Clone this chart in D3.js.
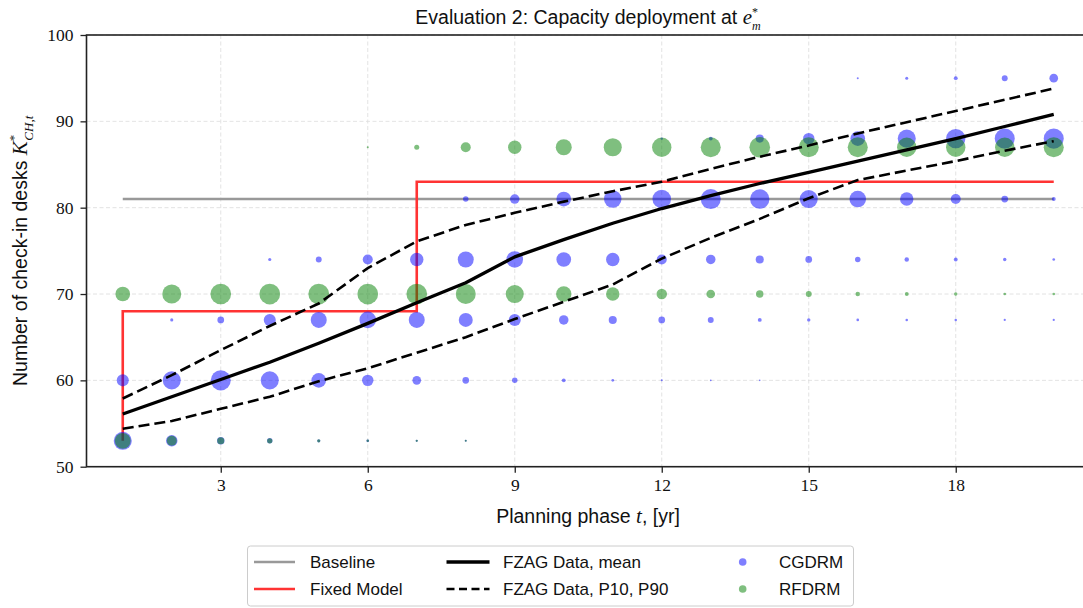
<!DOCTYPE html>
<html>
<head>
<meta charset="utf-8">
<script src="https://cdn.jsdelivr.net/npm/d3@7"></script>
<style>
  body { margin: 0; background: #fff; }
  svg { display: block; }
</style>
</head>
<body>
<svg id="chart" width="1083" height="608"></svg>
<script>
// Planning phases (years)
const phases = [1, 2, 3, 4, 5, 6, 7, 8, 9, 10, 11, 12, 13, 14, 15, 16, 17, 18, 19, 20];

// Capacity levels reached by each model
const cgdrmLevels = [53, 60, 67, 74, 81, 88, 95];
const rfdrmLevels = [53, 70, 87];

// Share of scenarios at each capacity level, per phase (rows follow the level lists)
const cgdrmShare = [
  [0.65, 0.26, 0.11, 0.06, 0.02, 0.015, 0.01, 0.008, 0, 0, 0, 0, 0, 0, 0, 0, 0, 0, 0, 0],
  [0.29, 0.65, 0.80, 0.65, 0.43, 0.26, 0.15, 0.09, 0.06, 0.03, 0.014, 0.008, 0.006, 0.005, 0, 0, 0, 0, 0, 0],
  [0, 0.02, 0.09, 0.29, 0.51, 0.55, 0.51, 0.39, 0.29, 0.18, 0.13, 0.09, 0.07, 0.03, 0.023, 0.014, 0.013, 0.012, 0.01, 0.01],
  [0, 0, 0, 0.02, 0.07, 0.20, 0.36, 0.51, 0.55, 0.43, 0.36, 0.20, 0.18, 0.13, 0.09, 0.06, 0.04, 0.03, 0.023, 0.014],
  [0, 0, 0, 0, 0, 0, 0, 0.06, 0.18, 0.43, 0.61, 0.69, 0.80, 0.75, 0.65, 0.55, 0.36, 0.20, 0.09, 0.03],
  [0, 0, 0, 0, 0, 0, 0, 0, 0, 0, 0, 0.012, 0.03, 0.13, 0.26, 0.43, 0.65, 0.75, 0.80, 0.80],
  [0, 0, 0, 0, 0, 0, 0, 0, 0, 0, 0, 0, 0, 0, 0, 0.008, 0.018, 0.03, 0.07, 0.15]
];
const rfdrmShare = [
  [0.50, 0.20, 0.10, 0.055, 0.02, 0.012, 0.01, 0.008, 0, 0, 0, 0, 0, 0, 0, 0, 0, 0, 0, 0],
  [0.43, 0.72, 0.85, 0.86, 0.86, 0.86, 0.85, 0.80, 0.65, 0.47, 0.36, 0.22, 0.15, 0.11, 0.07, 0.04, 0.03, 0.023, 0.014, 0.014],
  [0, 0, 0, 0, 0, 0.008, 0.05, 0.20, 0.36, 0.51, 0.65, 0.75, 0.80, 0.85, 0.80, 0.80, 0.75, 0.75, 0.75, 0.80]
];

// Reference curves
const baselineDesks = [81, 81, 81, 81, 81, 81, 81, 81, 81, 81, 81, 81, 81, 81, 81, 81, 81, 81, 81, 81];
const fixedModelDesks = [53, 68, 68, 68, 68, 68, 68, 83, 83, 83, 83, 83, 83, 83, 83, 83, 83, 83, 83, 83];
const fzagMean = [56.1, 58.1, 60.1, 62.1, 64.3, 66.6, 69.0, 71.3, 74.3, 76.3, 78.2, 79.9, 81.4, 82.8, 84.1, 85.4, 86.7, 88.0, 89.4, 90.8];
const fzagP10 = [54.4, 55.3, 56.7, 58.1, 59.9, 61.4, 63.2, 65.0, 67.1, 69.1, 71.1, 74.1, 76.5, 78.7, 81.1, 83.2, 84.3, 85.4, 86.6, 87.7];
const fzagP90 = [57.9, 60.6, 63.5, 66.3, 68.9, 73.0, 76.1, 78.0, 79.4, 80.7, 81.9, 83.0, 84.5, 85.9, 87.2, 88.6, 89.9, 91.2, 92.5, 93.8];

// Axis ticks
const xTicks = [3, 6, 9, 12, 15, 18];
const yTicks = [50, 60, 70, 80, 90, 100];

const svg = d3.select("#chart");
const serif = "'Liberation Serif', 'DejaVu Serif', serif";
const sans = "'Liberation Sans', 'DejaVu Sans', sans-serif";

const plot = { left: 86.5, right: 1090, top: 35, bottom: 466.7 };

const x = d3.scaleLinear().domain([0.26, 20.74]).range([plot.left, plot.right]);
const y = d3.scaleLinear().domain([50, 100]).range([plot.bottom, plot.top]);
const r = d3.scaleSqrt().domain([0, 1]).range([0, 11.2]);

svg.append("rect").attr("width", 1083).attr("height", 608).attr("fill", "#fff");

// Grid
const grid = svg.append("g").attr("stroke", "#dcdcdc").attr("stroke-width", 0.8).attr("stroke-dasharray", "4,2.5");
grid.selectAll("line.gx").data(xTicks).join("line")
  .attr("x1", d => x(d)).attr("x2", d => x(d))
  .attr("y1", plot.top).attr("y2", plot.bottom);
grid.selectAll("line.gy").data(yTicks).join("line")
  .attr("x1", plot.left).attr("x2", plot.right)
  .attr("y1", d => y(d)).attr("y2", d => y(d));

const plotArea = svg.append("g");

// Baseline and fixed model
const line = d3.line().x((d, i) => x(phases[i])).y(d => y(d));
const stepLine = d3.line().x((d, i) => x(phases[i])).y(d => y(d)).curve(d3.curveStepBefore);
plotArea.append("path").datum(baselineDesks)
  .attr("d", line).attr("fill", "none")
  .attr("stroke", "#999999").attr("stroke-width", 2.4);
plotArea.append("path").datum(fixedModelDesks)
  .attr("d", stepLine).attr("fill", "none")
  .attr("stroke", "#ff3333").attr("stroke-width", 2.6);

// Scatter of capacity distributions
function flatten(levels, share) {
  const out = [];
  levels.forEach((lv, li) => {
    share[li].forEach((s, pi) => { if (s > 0) out.push({ t: phases[pi], k: lv, s }); });
  });
  return out;
}
const cgdrmPts = flatten(cgdrmLevels, cgdrmShare);
const rfdrmPts = flatten(rfdrmLevels, rfdrmShare);

plotArea.append("g").selectAll("circle").data(cgdrmPts).join("circle")
  .attr("cx", d => x(d.t)).attr("cy", d => y(d.k)).attr("r", d => r(d.s))
  .attr("fill", "blue").attr("fill-opacity", 0.5);
plotArea.append("g").selectAll("circle").data(rfdrmPts).join("circle")
  .attr("cx", d => x(d.t)).attr("cy", d => y(d.k)).attr("r", d => r(d.s))
  .attr("fill", "green").attr("fill-opacity", 0.5);

// FZAG data: mean and percentile band edges
plotArea.append("path").datum(fzagMean)
  .attr("d", line).attr("fill", "none")
  .attr("stroke", "#000").attr("stroke-width", 3.3).attr("stroke-linejoin", "round");
[fzagP10, fzagP90].forEach(series => {
  plotArea.append("path").datum(series)
    .attr("d", line).attr("fill", "none")
    .attr("stroke", "#000").attr("stroke-width", 2.6)
    .attr("stroke-dasharray", "11,5");
});

// Axes
const xAxis = svg.append("g").attr("transform", `translate(0,${plot.bottom})`)
  .call(d3.axisBottom(x).tickValues(xTicks).tickSize(6).tickPadding(6).tickFormat(d3.format("d")));
const yAxis = svg.append("g").attr("transform", `translate(${plot.left},0)`)
  .call(d3.axisLeft(y).tickValues(yTicks).tickSize(6).tickPadding(7).tickFormat(d3.format("d")));
[xAxis, yAxis].forEach(a => {
  a.select(".domain").remove();
  a.selectAll(".tick line").attr("stroke", "#222").attr("stroke-width", 1.3);
  a.selectAll(".tick text").attr("font-family", serif).attr("font-size", 17.5).attr("fill", "#111");
});

// Frame
svg.append("rect")
  .attr("x", plot.left).attr("y", plot.top)
  .attr("width", plot.right - plot.left).attr("height", plot.bottom - plot.top)
  .attr("fill", "none").attr("stroke", "#222").attr("stroke-width", 1.6);

// Title
const title = svg.append("text").attr("x", 588).attr("y", 24)
  .attr("text-anchor", "middle").attr("font-family", sans).attr("font-size", 19.5).attr("fill", "#111");
title.append("tspan").text("Evaluation 2: Capacity deployment at ");
title.append("tspan").attr("font-family", serif).attr("font-style", "italic").attr("font-size", 21).text("e");
title.append("tspan").attr("font-family", serif).attr("font-size", 12).attr("dy", -8).text("*");
title.append("tspan").attr("font-family", serif).attr("font-style", "italic").attr("font-size", 12)
  .attr("dx", -6).attr("dy", 14).text("m");

// X label
const xl = svg.append("text").attr("x", 588).attr("y", 523)
  .attr("text-anchor", "middle").attr("font-family", sans).attr("font-size", 19.5).attr("fill", "#111");
xl.append("tspan").text("Planning phase ");
xl.append("tspan").attr("font-family", serif).attr("font-style", "italic").attr("font-size", 21).text("t");
xl.append("tspan").text(", [yr]");

// Y label
const yl = svg.append("text")
  .attr("transform", `translate(27,${(plot.top + plot.bottom) / 2}) rotate(-90)`)
  .attr("text-anchor", "middle").attr("font-family", sans).attr("font-size", 19.5).attr("fill", "#111");
yl.append("tspan").text("Number of check-in desks ");
yl.append("tspan").attr("font-family", serif).attr("font-style", "italic").attr("font-size", 21).text("K");
yl.append("tspan").attr("font-family", serif).attr("font-size", 13).attr("dy", -9).text("*");
yl.append("tspan").attr("font-family", serif).attr("font-style", "italic").attr("font-size", 13)
  .attr("dx", -6).attr("dy", 15).text("CH,t");

// Legend
const legendItems = [
  { label: "Baseline", kind: "line", color: "#999999", width: 2.4, col: 0, row: 0 },
  { label: "Fixed Model", kind: "line", color: "#ff3333", width: 2.6, col: 0, row: 1 },
  { label: "FZAG Data, mean", kind: "line", color: "#000", width: 3.3, col: 1, row: 0 },
  { label: "FZAG Data, P10, P90", kind: "line", color: "#000", width: 2.6, dash: "8,4.5", col: 1, row: 1 },
  { label: "CGDRM", kind: "dot", color: "blue", col: 2, row: 0 },
  { label: "RFDRM", kind: "dot", color: "green", col: 2, row: 1 }
];
const legend = svg.append("g");
legend.append("rect").attr("x", 247.5).attr("y", 546).attr("width", 606).attr("height", 60)
  .attr("rx", 3).attr("fill", "#fff").attr("stroke", "#cccccc").attr("stroke-width", 1);
const colX = [254, 446.5, 742.7];
const textX = [310, 503, 779];
const rowY = [562, 589];
legendItems.forEach(it => {
  const yy = rowY[it.row];
  if (it.kind === "line") {
    legend.append("line")
      .attr("x1", colX[it.col]).attr("x2", colX[it.col] + (it.col === 0 ? 41 : 43))
      .attr("y1", yy).attr("y2", yy)
      .attr("stroke", it.color).attr("stroke-width", it.width)
      .attr("stroke-dasharray", it.dash || null);
  } else {
    legend.append("circle").attr("cx", colX[it.col]).attr("cy", yy).attr("r", 3.8)
      .attr("fill", it.color).attr("fill-opacity", 0.5);
  }
  legend.append("text").attr("x", textX[it.col]).attr("y", yy + 6)
    .attr("font-family", sans).attr("font-size", 17).attr("fill", "#111").text(it.label);
});
</script>
</body>
</html>
